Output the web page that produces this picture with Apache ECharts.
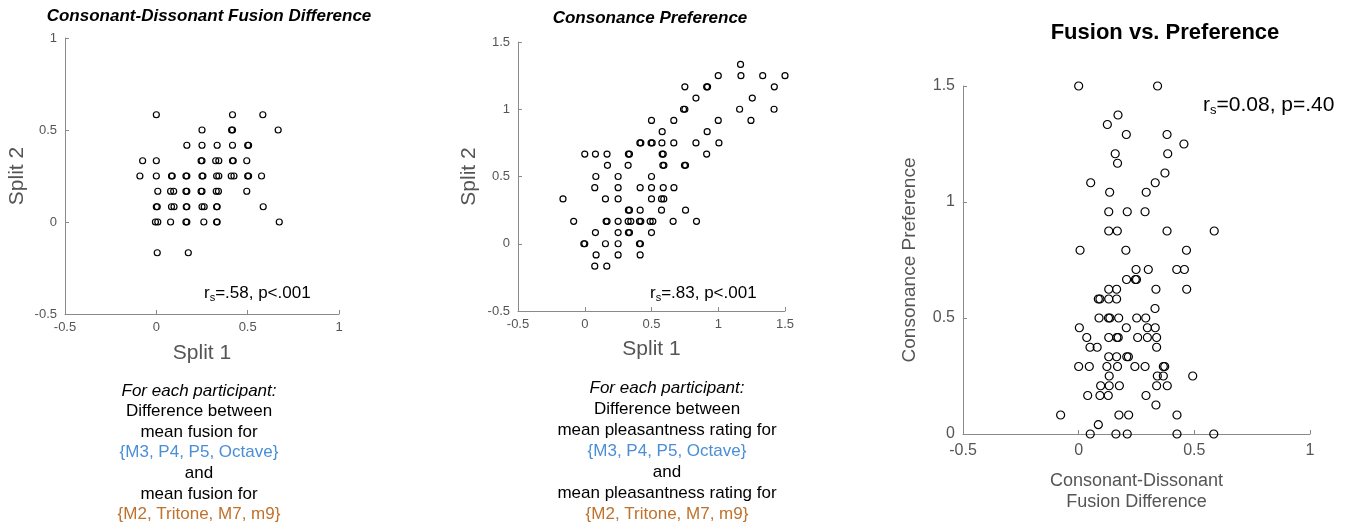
<!DOCTYPE html>
<html>
<head>
<meta charset="utf-8">
<script src="https://cdn.jsdelivr.net/npm/echarts@6/dist/echarts.min.js"></script>
<style>
html,body{margin:0;padding:0;background:#fff;}
#main{width:1355px;height:529px;}
</style>
</head>
<body>
<div id="main"></div>
<script>
// ---- Data ----
// Plot 1: Consonant-Dissonant Fusion Difference, split 1 (x) vs split 2 (y)
const fusionSplitPoints = [
  [0,0.583],[0.417,0.583],[0.583,0.583],
  [0.25,0.5],[0.412,0.5],[0.417,0.5],[0.667,0.5],
  [0.167,0.417],[0.25,0.417],[0.333,0.417],[0.417,0.417],[0.5,0.417],[0.505,0.417],
  [-0.075,0.333],[0,0.333],[0.245,0.333],[0.25,0.333],[0.325,0.333],[0.342,0.333],[0.417,0.333],[0.421,0.333],[0.495,0.333],
  [-0.09,0.25],[0,0.25],[0.083,0.25],[0.087,0.25],[0.162,0.25],[0.167,0.25],[0.25,0.25],[0.255,0.25],[0.33,0.25],[0.342,0.25],[0.41,0.25],[0.425,0.25],[0.5,0.25],[0.505,0.25],[0.576,0.25],
  [0.008,0.167],[0.078,0.167],[0.095,0.167],[0.162,0.167],[0.167,0.167],[0.245,0.167],[0.25,0.167],[0.328,0.167],[0.34,0.167],[0.495,0.167],
  [0,0.083],[0.005,0.083],[0.083,0.083],[0.097,0.083],[0.164,0.083],[0.167,0.083],[0.25,0.083],[0.262,0.083],[0.33,0.083],[0.333,0.083],[0.585,0.083],
  [-0.005,0],[0.008,0],[0.078,0],[0.162,0],[0.167,0],[0.26,0],[0.33,0],[0.333,0],[0.673,0],
  [0.005,-0.167],[0.175,-0.167]
];
// Plot 2: Consonance Preference, split 1 (x) vs split 2 (y)
const preferenceSplitPoints = [
  [1.167,1.333],
  [1.0,1.25],[1.17,1.25],[1.333,1.25],[1.5,1.25],
  [0.75,1.167],[0.913,1.167],[0.92,1.167],[1.42,1.167],
  [0.833,1.083],[1.255,1.083],
  [0.74,1.0],[0.75,1.0],[1.16,1.0],[1.418,1.0],
  [0.5,0.917],[0.667,0.917],[1.0,0.917],[1.245,0.917],
  [0.58,0.833],[0.917,0.833],
  [0.413,0.75],[0.42,0.75],[0.497,0.75],[0.505,0.75],[0.578,0.75],[0.667,0.75],[0.833,0.75],[1.005,0.75],
  [0,0.667],[0.08,0.667],[0.167,0.667],[0.327,0.667],[0.335,0.667],[0.58,0.667],[0.588,0.667],[0.913,0.667],
  [0.17,0.583],[0.325,0.583],[0.585,0.583],[0.593,0.583],[0.747,0.583],[0.755,0.583],
  [0.083,0.5],[0.25,0.5],[0.5,0.5],
  [0.075,0.417],[0.25,0.417],[0.415,0.417],[0.5,0.417],[0.588,0.417],[0.668,0.417],
  [-0.163,0.333],[0.155,0.333],[0.25,0.333],[0.5,0.333],[0.575,0.333],[0.592,0.333],
  [0.327,0.25],[0.335,0.25],[0.415,0.25],[0.575,0.25],[0.755,0.25],
  [-0.083,0.167],[0.16,0.167],[0.167,0.167],[0.25,0.167],[0.325,0.167],[0.345,0.167],[0.41,0.167],[0.42,0.167],[0.49,0.167],[0.51,0.167],[0.662,0.167],[0.837,0.167],
  [0.08,0.083],[0.25,0.083],[0.327,0.083],[0.335,0.083],[0.5,0.083],
  [-0.007,0],[0.0,0],[0.155,0],[0.25,0],[0.41,0],[0.417,0],
  [0.085,-0.083],[0.25,-0.083],[0.415,-0.083],
  [0.075,-0.167],[0.165,-0.167]
];
// Plot 3: Fusion difference (x) vs consonance preference (y)
const fusionPreferencePoints = [
  [0,1.5],[0.341,1.5],
  [0.17,1.375],[0.124,1.334],
  [0.206,1.291],[0.382,1.291],[0.455,1.25],
  [0.158,1.208],[0.385,1.208],[0.168,1.167],
  [0.373,1.125],[0.052,1.083],[0.331,1.083],
  [0.134,1.042],[0.292,1.042],
  [0.13,0.958],[0.21,0.958],[0.287,0.958],
  [0.13,0.875],[0.167,0.875],[0.382,0.875],[0.586,0.875],
  [0.006,0.792],[0.204,0.792],[0.466,0.792],
  [0.248,0.709],[0.301,0.709],[0.424,0.709],[0.457,0.709],
  [0.207,0.666],[0.245,0.666],[0.25,0.666],
  [0.13,0.624],[0.164,0.624],[0.334,0.624],[0.467,0.624],
  [0.085,0.582],[0.092,0.582],[0.13,0.582],[0.164,0.582],
  [0.33,0.541],
  [0.088,0.5],[0.129,0.5],[0.135,0.5],[0.173,0.5],[0.251,0.5],[0.29,0.5],
  [0.003,0.458],[0.206,0.458],[0.297,0.458],[0.331,0.458],
  [0.035,0.416],[0.13,0.416],[0.165,0.416],[0.171,0.416],[0.255,0.416],[0.297,0.416],[0.337,0.416],
  [0.049,0.374],[0.08,0.374],[0.337,0.374],
  [0.13,0.333],[0.164,0.333],[0.208,0.333],[0.215,0.333],
  [0,0.291],[0.046,0.291],[0.122,0.291],[0.168,0.291],[0.243,0.291],[0.287,0.291],[0.366,0.291],[0.372,0.291],
  [0.132,0.25],[0.34,0.25],[0.366,0.25],[0.493,0.25],
  [0.095,0.208],[0.132,0.208],[0.176,0.208],[0.337,0.208],[0.383,0.208],
  [0.039,0.166],[0.092,0.166],[0.128,0.166],[0.291,0.166],
  [0.334,0.125],
  [-0.078,0.082],[0.174,0.082],[0.216,0.082],[0.425,0.082],
  [0.085,0.04],
  [0.05,0],[0.161,0],[0.21,0],[0.425,0],[0.584,0]
];
// Tick settings
const split1Ticks = { min: -0.5, max: 1, interval: 0.5 };
const prefTicks = { min: -0.5, max: 1.5, interval: 0.5 };
const fusionXTicks = { min: -0.5, max: 1, interval: 0.5 };
const prefYTicks = { min: 0, max: 1.5, interval: 0.5 };
// Texts
const titles = ['Consonant-Dissonant Fusion Difference', 'Consonance Preference', 'Fusion vs. Preference'];
const statTexts = ['=.58, p<.001', '=.83, p<.001', '=0.08, p=.40'];
const block1Lines = ['For each participant:', 'Difference between', 'mean fusion for', '{M3, P4, P5, Octave}', 'and', 'mean fusion for', '{M2, Tritone, M7, m9}'];
const block2Lines = ['For each participant:', 'Difference between', 'mean pleasantness rating for', '{M3, P4, P5, Octave}', 'and', 'mean pleasantness rating for', '{M2, Tritone, M7, m9}'];
const lineKinds = ['italic', 'normal', 'normal', 'blue', 'normal', 'normal', 'orange'];

// ---- Chart ----
const FONT = '"Liberation Sans", Arial, Helvetica, sans-serif';
const AXIS_COLOR = '#8a8a8a';
const LABEL_COLOR = '#555';
const chart = echarts.init(document.getElementById('main'), null, { renderer: 'canvas' });

function axis(ticks, gridIndex, name, nameGap, labelSize, nameSize, margin) {
  return {
    type: 'value', gridIndex, min: ticks.min, max: ticks.max, interval: ticks.interval,
    name, nameLocation: 'middle', nameGap,
    nameTextStyle: { color: LABEL_COLOR, fontSize: nameSize, fontFamily: FONT, lineHeight: nameSize + 3 },
    axisLine: { show: true, onZero: false, lineStyle: { color: AXIS_COLOR, width: 1 } },
    axisTick: { show: true, inside: true, length: 4, lineStyle: { color: AXIS_COLOR } },
    axisLabel: { color: LABEL_COLOR, fontSize: labelSize, fontFamily: FONT, margin },
    splitLine: { show: false }
  };
}
function scatter(data, idx, size) {
  return {
    type: 'scatter', xAxisIndex: idx, yAxisIndex: idx, data,
    symbol: 'circle', symbolSize: size,
    itemStyle: { color: 'rgba(0,0,0,0)', borderColor: '#000', borderWidth: 1.2, opacity: 1 },
    emphasis: { disabled: true }, silent: true
  };
}
function textEl(x, y, text, style) {
  return { type: 'text', x, y, silent: true,
    style: Object.assign({ text, fontFamily: FONT, fill: '#000', align: 'center', verticalAlign: 'middle' }, style) };
}
function statEl(x, y, txt, size) {
  return { type: 'text', x, y, silent: true,
    style: { text: '{a|r}{s|s}{a|' + txt + '}', align: 'left', verticalAlign: 'middle', fontFamily: FONT,
      rich: { a: { fontSize: size, fontFamily: FONT, color: '#000' },
              s: { fontSize: Math.round(size * 0.62), fontFamily: FONT, color: '#000', padding: [Math.round(size*0.5), 0, 0, 0] } } } };
}
const graphics = [];
graphics.push(textEl(209, 16, titles[0], { fontSize: 17, fontWeight: 'bold', fontStyle: 'italic' }));
graphics.push(textEl(650, 18, titles[1], { fontSize: 17, fontWeight: 'bold', fontStyle: 'italic' }));
graphics.push(textEl(1165, 33, titles[2], { fontSize: 22, fontWeight: 'bold' }));
graphics.push(statEl(204, 293, statTexts[0], 17));
graphics.push(statEl(650, 293, statTexts[1], 17));
graphics.push(statEl(1203, 105, statTexts[2], 21));
const kindStyle = {
  italic: { fontStyle: 'italic', fill: '#000' },
  normal: { fill: '#000' },
  blue: { fill: '#4a8fd6' },
  orange: { fill: '#c0712c' }
};
block1Lines.forEach((t, i) => graphics.push(textEl(199, 391 + i * 20.6, t, Object.assign({ fontSize: 17 }, kindStyle[lineKinds[i]]))));
block2Lines.forEach((t, i) => graphics.push(textEl(667, 388 + i * 21, t, Object.assign({ fontSize: 17 }, kindStyle[lineKinds[i]]))));

chart.setOption({
  animation: false,
  backgroundColor: '#fff',
  grid: [
    { left: 65, top: 38, width: 274, height: 276 },
    { left: 518, top: 42, width: 267, height: 269 },
    { left: 963, top: 86, width: 347, height: 348 }
  ],
  xAxis: [
    axis(split1Ticks, 0, 'Split 1', 27, 13, 21, 7),
    axis(prefTicks, 1, 'Split 1', 26, 13, 21, 7),
    axis(fusionXTicks, 2, 'Consonant-Dissonant\nFusion Difference', 37, 16, 18, 9)
  ],
  yAxis: [
    axis(split1Ticks, 0, 'Split 2', 36, 13, 21, 8),
    axis(prefTicks, 1, 'Split 2', 37, 13, 21, 8),
    axis(prefYTicks, 2, 'Consonance Preference', 42, 16, 19, 8)
  ],
  series: [
    scatter(fusionSplitPoints, 0, 6),
    scatter(preferenceSplitPoints, 1, 6),
    scatter(fusionPreferencePoints, 2, 8)
  ],
  graphic: graphics
});
</script>
</body>
</html>
